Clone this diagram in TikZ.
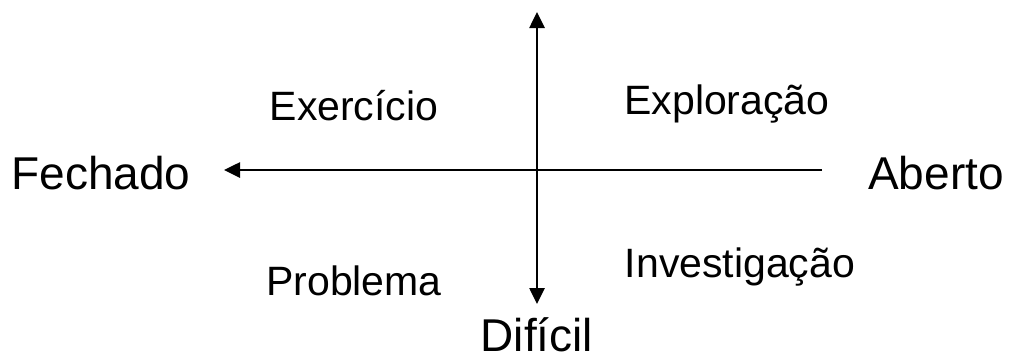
\documentclass[tikz,border=0pt]{standalone}
\usepackage{fontspec}
\setmainfont{Liberation Sans}
\usetikzlibrary{arrows.meta}
\begin{document}
\begin{tikzpicture}[x=1pt,y=-1pt,
  axis/.style={line width=2.6pt,-{Triangle[length=16pt,width=15pt]}},
  big/.style={font=\fontsize{46}{50}\selectfont,inner sep=0pt},
  small/.style={font=\fontsize{41}{44}\selectfont,inner sep=0pt}]
\useasboundingbox (0,0) rectangle (1011,360);
\coordinate (top) at (537,12);
\coordinate (bot) at (537,304);
\coordinate (left) at (224,170);
\coordinate (right) at (822,170);
\draw[axis,{Triangle[length=16pt,width=15pt]}-{Triangle[length=16pt,width=15pt]}] (top) -- (bot);
\draw[axis] (right) -- (left);
\node[big] (fechado) at (101,173) {Fechado};
\node[big] (aberto) at (936,173) {Aberto};
\node[big] (dificil) at (537,335) {Difícil};
\node[small] (exerc) at (354,106) {Exercício};
\node[small] (explor) at (727,104) {Exploração};
\node[small] (probl) at (354,281) {Problema};
\node[small] (invest) at (740,267) {Investigação};
\end{tikzpicture}
\end{document}
